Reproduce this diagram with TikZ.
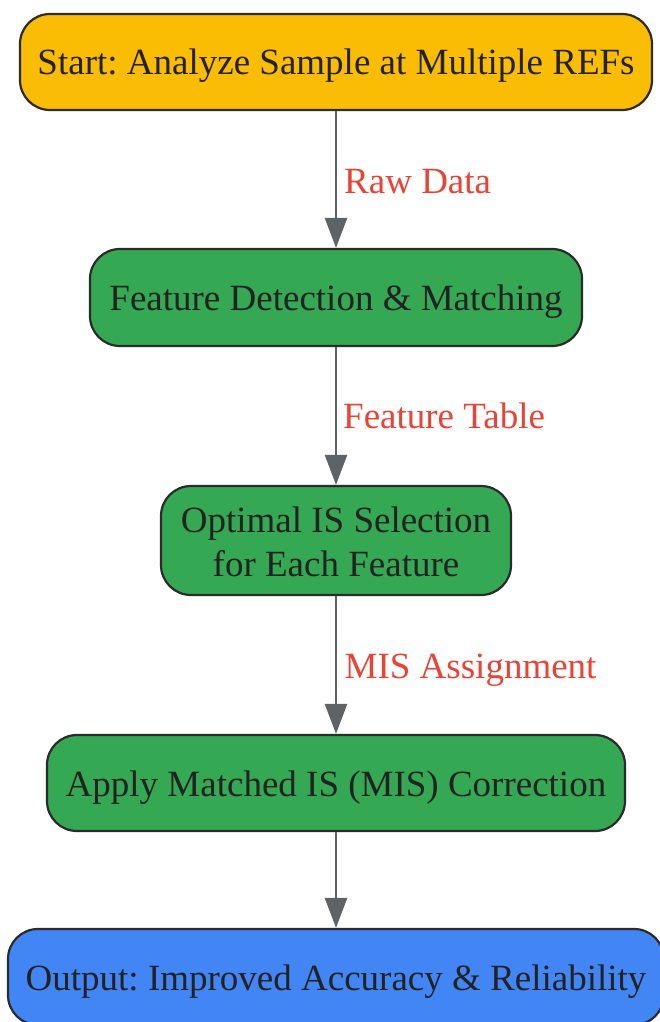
\documentclass[tikz,border=0pt]{standalone}
\usepackage{fontspec}
\setmainfont{Liberation Serif}
\frenchspacing
\usetikzlibrary{arrows.meta}
\definecolor{cyellow}{HTML}{FBBC04}
\definecolor{cgreen}{HTML}{34A853}
\definecolor{cblue}{HTML}{4285F4}
\definecolor{cborder}{HTML}{2B2B2B}
\definecolor{ctext}{HTML}{222222}
\definecolor{clabel}{HTML}{EA4335}
\definecolor{carrow}{HTML}{5F6368}
\begin{document}
\begin{tikzpicture}[x=1pt,y=-1pt,
  box/.style={draw=cborder, line width=2.2pt, rounded corners=30pt, inner sep=0pt,
    text=ctext, font=\fontsize{37}{44}\selectfont, text height=30pt, text depth=4pt},
  conn/.style={draw=carrow, line width=2.5pt, -{Triangle[length=30pt,width=22pt]}},
  lab/.style={text=clabel, font=\fontsize{37}{44}\selectfont, anchor=base west, inner sep=0pt}]
\useasboundingbox (0,0) rectangle (659,1022);
\node[box, fill=cyellow, minimum width=632pt, minimum height=96pt] (n1) at (336,62) {Start: Analyze Sample at Multiple REFs};
\node[box, fill=cgreen, minimum width=492pt, minimum height=97pt] (n2) at (336,297.5) {Feature Detection \& Matching};
\node[box, fill=cgreen, minimum width=350pt, minimum height=109pt, text height=30pt, text depth=47pt] (n3) at (336,540.5) {\begin{tabular}[t]{@{}c@{}}Optimal IS Selection\\for Each Feature\end{tabular}};
\node[box, fill=cgreen, minimum width=578pt, minimum height=96pt] (n4) at (336,783) {Apply Matched IS (MIS) Correction};
\node[box, fill=cblue, minimum width=656pt, minimum height=96pt] (n5) at (336,977) {Output: Improved Accuracy \& Reliability};
\draw[conn] (n1.south) -- (n2.north);
\draw[conn] (n2.south) -- (n3.north);
\draw[conn] (n3.south) -- (n4.north);
\draw[conn] (n4.south) -- (n5.north);
\node[lab] (l1) at (344,193) {Raw Data};
\node[lab] (l2) at (343,428) {Feature Table};
\node[lab] (l3) at (344.5,678) {MIS Assignment};
\end{tikzpicture}
\end{document}
